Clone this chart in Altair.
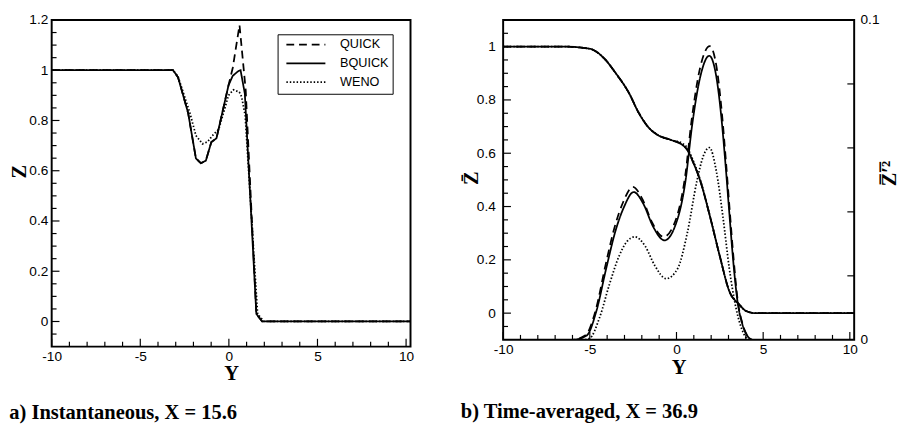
import altair as alt
import pandas as pd

SANS = "Liberation Sans"
SERIF = "Liberation Serif"

SCHEMES = ["QUICK", "BQUICK", "WENO"]
DASHES = [[8, 5], [1, 0], [1.5, 2]]

# ---------------- panel a : instantaneous Z(Y) ----------------
a_quick_y = [-10, -3.15, -2.87, -2.3, -1.86, -1.58, -1.30, -0.99, -0.70, -0.02, 0.22, 0.60, 0.95, 1.55, 1.88, 10.25]
a_quick_z = [1.0, 1.0, 0.972, 0.83, 0.649, 0.63, 0.64, 0.714, 0.729, 0.94, 1.01, 1.18, 0.92, 0.03, 0.0, 0.0]
a_bquick_y = [-10, -3.15, -2.87, -2.3, -1.86, -1.58, -1.30, -0.99, -0.70, -0.02, 0.22, 0.54, 0.66, 0.90, 1.55, 1.88, 10.25]
a_bquick_z = [1.0, 1.0, 0.972, 0.83, 0.649, 0.63, 0.64, 0.714, 0.729, 0.94, 0.978, 0.997, 1.0, 0.907, 0.03, 0.0, 0.0]
a_weno_y = [-10, -3.15, -2.87, -2.2, -1.86, -1.49, -1.2, -0.94, -0.57, -0.02, 0.26, 0.59, 0.72, 0.92, 1.62, 1.98, 10.25]
a_weno_z = [1.0, 1.0, 0.975, 0.83, 0.74, 0.707, 0.715, 0.739, 0.765, 0.90, 0.922, 0.913, 0.894, 0.82, 0.03, 0.0, 0.0]

# ---------------- panel b : time-averaged mean (left) and variance (right) ----------------
b_mean_y = [-10, -6.5, -5.0, -4.25, -3.5, -2.75, -2.19, -1.63, -1.07, -0.32, 0.34, 0.62, 1.0, 1.37, 1.93, 2.49, 3.05, 3.61, 3.99, 4.55, 10.25]
b_mean_quick = [1.0, 1.0, 0.992, 0.961, 0.90, 0.827, 0.753, 0.698, 0.668, 0.65, 0.631, 0.613, 0.56, 0.497, 0.363, 0.216, 0.082, 0.033, 0.009, 0.0, 0.0]
b_mean_bquick = [1.0, 1.0, 0.992, 0.961, 0.90, 0.827, 0.753, 0.698, 0.668, 0.65, 0.631, 0.613, 0.56, 0.497, 0.363, 0.216, 0.082, 0.033, 0.009, 0.0, 0.0]
b_mean_weno = [1.0, 1.0, 0.992, 0.961, 0.90, 0.827, 0.753, 0.698, 0.668, 0.65, 0.637, 0.62, 0.566, 0.50, 0.365, 0.216, 0.082, 0.033, 0.009, 0.0, 0.0]

b_var_quick_y = [-10, -6.0, -5.25, -4.65, -4.1, -3.55, -3.08, -2.52, -1.95, -1.4, -0.75, -0.15, 0.5, 0.88, 1.36, 1.92, 2.32, 2.6, 2.85, 3.07, 3.3, 3.53, 3.81, 4.09, 4.4, 10.25]
b_var_quick = [0, 0, 0.0014, 0.0095, 0.0232, 0.0356, 0.043, 0.0478, 0.0438, 0.0366, 0.0322, 0.036, 0.0512, 0.069, 0.085, 0.0918, 0.085, 0.072, 0.056, 0.0405, 0.025, 0.0124, 0.005, 0.0013, 0, 0]
b_var_bquick_y = [-10, -6.0, -5.19, -4.62, -4.06, -3.5, -3.03, -2.47, -1.91, -1.35, -0.69, -0.13, 0.52, 0.9, 1.37, 1.89, 2.30, 2.58, 2.83, 3.05, 3.28, 3.52, 3.80, 4.08, 4.4, 10.25]
b_var_bquick = [0, 0, 0.0013, 0.009, 0.0222, 0.0344, 0.0415, 0.0462, 0.0425, 0.0354, 0.0311, 0.0349, 0.0497, 0.067, 0.0822, 0.0888, 0.0822, 0.070, 0.0547, 0.0395, 0.0242, 0.012, 0.0049, 0.0013, 0, 0]
b_var_weno_y = [-10, -5.4, -5.0, -4.44, -3.88, -3.31, -2.85, -2.4, -1.81, -1.25, -0.6, 0.06, 0.62, 1.18, 1.55, 1.9, 2.30, 2.68, 3.05, 3.43, 3.80, 4.2, 10.25]
b_var_weno = [0, 0, 0.0005, 0.0069, 0.0171, 0.0262, 0.0308, 0.0322, 0.0293, 0.0232, 0.0191, 0.0222, 0.0333, 0.0497, 0.0575, 0.0601, 0.0527, 0.0384, 0.0222, 0.010, 0.0029, 0, 0]

# ---------------- axis tick values ----------------
X_DOMAIN = [-10, 10.25]
X_MAJOR = [-10, -5, 0, 5, 10]
X_MINOR = [-9, -8, -7, -6, -4, -3, -2, -1, 1, 2, 3, 4, 6, 7, 8, 9]
A_Y_DOMAIN = [-0.1, 1.2]
A_Y_MAJOR = [0, 0.2, 0.4, 0.6, 0.8, 1, 1.2]
A_Y_MINOR = [-0.05, 0.05, 0.1, 0.15, 0.25, 0.3, 0.35, 0.45, 0.5, 0.55, 0.65, 0.7, 0.75,
             0.85, 0.9, 0.95, 1.05, 1.1, 1.15]
B_Y_DOMAIN = [-0.1, 1.1]
B_Y_MAJOR = [0, 0.2, 0.4, 0.6, 0.8, 1]
B_Y_MINOR = [-0.05, 0.05, 0.1, 0.15, 0.25, 0.3, 0.35, 0.45, 0.5, 0.55, 0.65, 0.7, 0.75,
             0.85, 0.9, 0.95, 1.05]
B_R_DOMAIN = [0, 0.1]
B_R_LABELS = [0, 0.1]
B_R_TICKS = [0.02, 0.04, 0.06, 0.08]

CAPTION_A = "a) Instantaneous, X = 15.6"
CAPTION_B = "b) Time-averaged, X = 36.9"

WA, HA = 368, 335
WB, HB = 360, 328


def frame(series):
    rows = []
    for name, ys, vs in series:
        for k, (y, v) in enumerate(zip(ys, vs)):
            rows.append({"scheme": name, "Y": y, "val": v, "k": k})
    return pd.DataFrame(rows)


def legend(lx, ly):
    return alt.Legend(title=None, orient="none", legendX=lx, legendY=ly,
                      symbolType="stroke", symbolSize=1600, symbolStrokeWidth=1.8,
                      symbolStrokeColor="black", symbolOffset=4, clipHeight=13, rowPadding=5.3,
                      labelFont=SANS, labelFontSize=13, labelColor="black", labelOffset=14,
                      padding=4, strokeColor="black", fillColor="white",
                      labelExpr="datum.label + '\u00a0\u00a0\u00a0\u00a0\u00a0'")


def dash(lg):
    return alt.StrokeDash("scheme:N", scale=alt.Scale(domain=SCHEMES, range=DASHES), legend=lg)


LBL = "'' + datum.value"


def x_axis(pad):
    return alt.Axis(values=X_MAJOR, labelExpr=LBL, ticks=False, domain=False, grid=False,
                    labelFont=SANS, labelFontSize=14, labelColor="black", labelPadding=3,
                    labelFlush=False, title="Y", titleFont=SERIF, titleFontSize=21,
                    titleFontWeight="bold", titleColor="black", titlePadding=pad)


def xticks(vals, xs, xax, H, L):
    return alt.Chart(pd.DataFrame({"t": vals})).mark_rule(color="black", strokeWidth=1.2).encode(
        x=alt.X("t:Q", scale=xs, axis=xax), y=alt.value(H), y2=alt.value(H - L))


def yticks(vals, ys, yax, x0, x1):
    return alt.Chart(pd.DataFrame({"t": vals})).mark_rule(color="black", strokeWidth=1.2).encode(
        y=alt.Y("t:Q", scale=ys, axis=yax), x=alt.value(x0), x2=alt.value(x1))


# ---------- panel a ----------
xs_a = alt.Scale(domain=X_DOMAIN, nice=False, zero=False)
ys_a = alt.Scale(domain=A_Y_DOMAIN, nice=False, zero=False)
xax_a = x_axis(0)
yax_a = alt.Axis(
    values=A_Y_MAJOR, labelExpr=LBL, ticks=False, domain=False, grid=False,
    labelFont=SANS, labelFontSize=14, labelColor="black", labelPadding=4,
    title="Z", titleFont=SERIF, titleFontSize=21, titleFontWeight="bold",
    titleColor="black", titlePadding=-1, titleY=155)
df_a = frame([("QUICK", a_quick_y, a_quick_z), ("BQUICK", a_bquick_y, a_bquick_z),
              ("WENO", a_weno_y, a_weno_z)])

lines_a = alt.Chart(df_a).mark_line(color="black", strokeWidth=1.8, clip=True).encode(
    x=alt.X("Y:Q", scale=xs_a, axis=xax_a),
    y=alt.Y("val:Q", scale=ys_a, axis=yax_a),
    strokeDash=dash(legend(231.7, 14.7)),
    order="k:Q",
)

panel_a = alt.layer(
    lines_a,
    xticks(X_MAJOR, xs_a, xax_a, HA, 8), xticks(X_MINOR, xs_a, xax_a, HA, 5),
    yticks(A_Y_MAJOR, ys_a, yax_a, 0, 8), yticks(A_Y_MINOR, ys_a, yax_a, 0, 5),
).properties(width=WA, height=HA, title=alt.TitleParams(
    CAPTION_A, orient="bottom", anchor="start", frame="bounds", font=SERIF, fontSize=21,
    fontWeight="bold", color="black", offset=19))

# ---------- panel b ----------
xs_b = alt.Scale(domain=X_DOMAIN, nice=False, zero=False)
ys_b = alt.Scale(domain=B_Y_DOMAIN, nice=False, zero=False)
rs_b = alt.Scale(domain=B_R_DOMAIN, nice=False, zero=False)
xax_b = x_axis(1)
yax_b = alt.Axis(
    values=B_Y_MAJOR, labelExpr=LBL, ticks=False, domain=False, grid=False,
    labelFont=SANS, labelFontSize=14, labelColor="black", labelPadding=8,
    title="Z\u0304", titleFont=SERIF, titleFontSize=21, titleFontWeight="bold",
    titleColor="black", titlePadding=-5, titleY=161.7)
rax_b = alt.Axis(
    orient="right", values=B_R_LABELS, labelExpr=LBL, ticks=False, domain=False,
    grid=False, labelFont=SANS, labelFontSize=14, labelColor="black", labelPadding=6,
    labelAlign="left",
    title="Z\u0305\u2032\u0305\u00b2", titleFont=SERIF, titleFontSize=21,
    titleFontWeight="bold", titleColor="black", titleAngle=270, titleBaseline="middle",
    titleX=36, titleY=157)

df_mean = frame([("QUICK", b_mean_y, b_mean_quick), ("BQUICK", b_mean_y, b_mean_bquick),
                 ("WENO", b_mean_y, b_mean_weno)])
df_var = frame([("QUICK", b_var_quick_y, b_var_quick), ("BQUICK", b_var_bquick_y, b_var_bquick),
                ("WENO", b_var_weno_y, b_var_weno)])

mean_b = alt.Chart(df_mean).mark_line(color="black", strokeWidth=1.8, clip=True,
                                      interpolate="monotone").encode(
    x=alt.X("Y:Q", scale=xs_b, axis=xax_b),
    y=alt.Y("val:Q", scale=ys_b, axis=yax_b),
    strokeDash=dash(legend(226.6, 6.7)),
    order="k:Q",
)

var_b = alt.Chart(df_var).mark_line(color="black", strokeWidth=1.8, clip=True,
                                    interpolate="monotone").encode(
    x=alt.X("Y:Q", scale=xs_b, axis=xax_b),
    y=alt.Y("val:Q", scale=rs_b, axis=rax_b),
    strokeDash=dash(legend(226.6, 6.7)),
    order="k:Q",
)

left_b = alt.layer(
    mean_b,
    xticks(X_MAJOR, xs_b, xax_b, HB, 8), xticks(X_MINOR, xs_b, xax_b, HB, 5),
    yticks(B_Y_MAJOR, ys_b, yax_b, 0, 8), yticks(B_Y_MINOR, ys_b, yax_b, 0, 5),
)
right_b = alt.layer(
    var_b,
    alt.Chart(pd.DataFrame({"t": B_R_TICKS})).mark_rule(color="black", strokeWidth=1.2).encode(
        y=alt.Y("t:Q", scale=rs_b, axis=rax_b), x=alt.value(WB), x2=alt.value(WB - 7)),
)

panel_b = alt.layer(left_b, right_b).resolve_scale(y="independent").properties(
    width=WB, height=HB, title=alt.TitleParams(
        CAPTION_B, orient="bottom", anchor="start", frame="bounds", font=SERIF, fontSize=21,
        fontWeight="bold", color="black", offset=24))

chart = alt.hconcat(panel_a, panel_b, spacing=45).properties(
    padding={"left": 8, "top": 7, "right": 0, "bottom": 0},
    background="white",
).configure_view(stroke="black", strokeWidth=2)

chart.save("out.html", embed_options={"renderer": "svg", "actions": False})
